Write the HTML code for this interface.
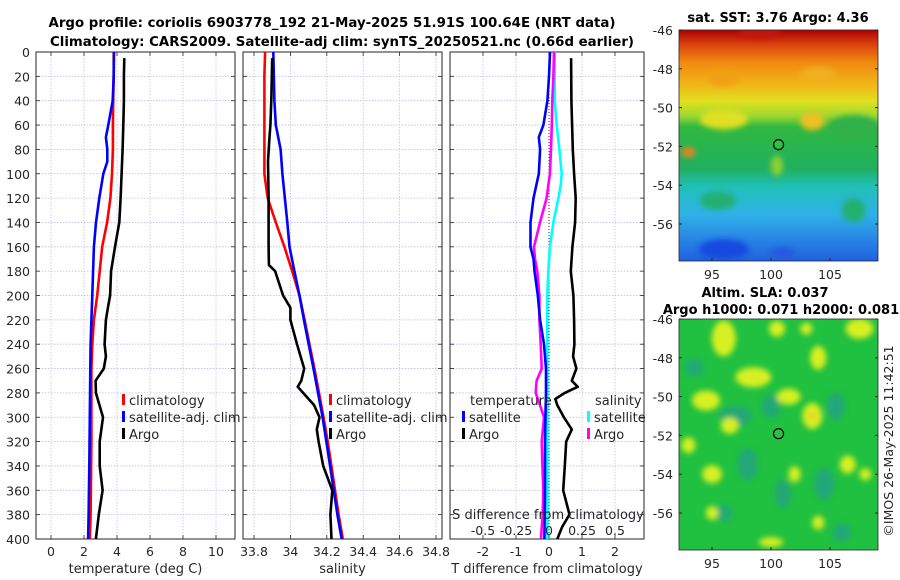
<!DOCTYPE html>
<html><head><meta charset="utf-8">
<style>
html,body{margin:0;padding:0;background:#fff;}
svg{display:block;font-family:"DejaVu Sans","Liberation Sans",sans-serif;}
</style></head>
<body>
<svg id="fig" width="900" height="580" viewBox="0 0 900 580" xmlns="http://www.w3.org/2000/svg">
<defs>
<linearGradient id="sstGrad" x1="0" y1="0" x2="0" y2="1">
<stop offset="0" stop-color="#b00000"/>
<stop offset="0.06" stop-color="#d84010"/>
<stop offset="0.14" stop-color="#f08a10"/>
<stop offset="0.24" stop-color="#f0b818"/>
<stop offset="0.31" stop-color="#e0e020"/>
<stop offset="0.37" stop-color="#a0d830"/>
<stop offset="0.42" stop-color="#30b840"/>
<stop offset="0.60" stop-color="#20b060"/>
<stop offset="0.68" stop-color="#20c0b8"/>
<stop offset="0.80" stop-color="#30b0e8"/>
<stop offset="1" stop-color="#2060e0"/>
</linearGradient>
<clipPath id="m1clip"><rect x="679" y="30" width="199" height="231"/></clipPath>
<clipPath id="m2clip"><rect x="679" y="319" width="199" height="231"/></clipPath>
<filter id="blur4"><feGaussianBlur stdDeviation="3"/></filter>
</defs>
<g id="root"></g>
</svg>
<script>
// ---------- DATA ----------
const depthTicks = [0,20,40,60,80,100,120,140,160,180,200,220,240,260,280,300,320,340,360,380,400];
const tempTicks = [0,2,4,6,8,10];
const salTicks = [33.8,34,34.2,34.4,34.6,34.8];
const salTickLabels = ["33.8","34","34.2","34.4","34.6","34.8"];
const tdiffTicks = [-2,-1,0,1,2];
const sdiffTicks = [-0.5,-0.25,0,0.25,0.5];
const sdiffTickLabels = ["-0.5","-0.25","0","0.25","0.5"];

const depthStd = [0,20,40,60,80,100,120,140,160,180,200,220,240,260,280,300,320,340,360,380,400];
const tempClim = [3.8,3.8,3.77,3.75,3.75,3.7,3.6,3.4,3.1,2.95,2.8,2.6,2.5,2.45,2.45,2.45,2.45,2.43,2.42,2.4,2.35];
const depthTempSat = [0,20,40,60,70,80,90,100,120,140,160,180,200,220,240,260,300,340,380,400];
const tempSat = [3.82,3.8,3.74,3.47,3.33,3.41,3.41,3.17,2.93,2.73,2.6,2.55,2.5,2.45,2.4,2.38,2.35,2.32,2.28,2.25];
const depthTempArgo = [5,20,40,60,80,100,120,140,160,180,200,210,220,240,250,260,270,280,300,320,340,360,380,400];
const tempArgo = [4.44,4.42,4.42,4.38,4.34,4.28,4.22,4.14,3.88,3.64,3.58,3.45,3.33,3.25,3.33,3.2,2.7,2.72,3.15,2.95,2.95,3.13,2.9,2.72];

const salClim = [33.861,33.857,33.857,33.857,33.857,33.857,33.875,33.92,33.967,34.01,34.05,34.078,34.105,34.132,34.157,34.182,34.205,34.225,34.245,34.265,34.288];
const depthSalSat = [0,40,60,80,100,140,160,180,200,220,260,300,340,380,400];
const salSat = [33.906,33.912,33.92,33.946,33.956,33.983,33.995,34.022,34.05,34.074,34.127,34.177,34.218,34.258,34.282];
const depthSalArgo = [5,40,60,70,90,120,160,175,180,200,210,220,240,260,270,275,290,300,310,320,340,360,380,400];
const salArgo = [33.9,33.895,33.89,33.885,33.877,33.88,33.88,33.882,33.916,33.96,34.0,34.0,34.036,34.076,34.06,34.04,34.13,34.16,34.145,34.155,34.18,34.23,34.22,34.226];

const depthTdSat = [0,20,40,60,70,80,100,120,140,160,170,180,200,220,240,260,280,300,320,360,400];
const tdiffSat = [0.03,0,-0.05,-0.17,-0.31,-0.27,-0.31,-0.47,-0.56,-0.56,-0.47,-0.44,-0.34,-0.27,-0.15,-0.09,-0.09,-0.11,-0.12,-0.12,-0.14];
const depthTdArgo = [5,40,80,100,120,140,160,180,200,220,240,250,260,270,275,280,285,290,300,310,320,340,360,380,390,400];
const tdiffArgo = [0.67,0.68,0.72,0.76,0.81,0.79,0.71,0.66,0.74,0.76,0.77,0.73,0.83,0.69,0.87,0.48,0.19,0.25,0.45,0.69,0.52,0.48,0.43,0.62,0.4,0.25];
const depthSdSat = [0,20,40,60,80,100,110,120,140,160,180,200,260,320,400];
const sdiffSat = [0.043,0.043,0.043,0.058,0.079,0.096,0.088,0.071,0.033,0.007,-0.005,-0.013,-0.013,-0.012,-0.012];
const depthSdArgo = [0,20,40,60,80,100,120,140,160,170,180,200,220,240,260,270,280,290,300,320,340,360,380,400];
const sdiffArgo = [0.038,0.033,0.025,0.021,0.015,0.007,-0.018,-0.068,-0.114,-0.106,-0.089,-0.073,-0.073,-0.063,-0.055,-0.094,-0.101,-0.068,-0.038,-0.055,-0.05,-0.043,-0.048,-0.061];

const latTicks = [-46,-48,-50,-52,-54,-56];
const lonTicks = [95,100,105];
const argoLon = 100.64, argoLat = -51.91;

// ---------- helpers ----------
const NS = "http://www.w3.org/2000/svg";
const root = document.getElementById('root');
function mk(tag, attrs, parent){
  const e = document.createElementNS(NS, tag);
  for (const k in attrs) e.setAttribute(k, attrs[k]);
  (parent||root).appendChild(e);
  return e;
}
function txt(s, x, y, size, anchor, parent, weight){
  const t = mk('text', {x:x, y:y, 'font-size':size, 'text-anchor':anchor||'middle', fill:'#262626'}, parent);
  if (weight) t.setAttribute('font-weight', weight);
  t.textContent = s;
  return t;
}
const PT = 52, PB = 539;
function yD(d){ return PT + (d/400)*(PB-PT); }
function linScale(d0,d1,r0,r1){ return v => r0 + (v-d0)/(d1-d0)*(r1-r0); }

const panels = [
  {name:'temperature-panel', x0:36, x1:235, xs:linScale(0,10,51,216), ticks:tempTicks, labels:tempTicks.map(String), xlabel:'temperature (deg C)'},
  {name:'salinity-panel', x0:243, x1:442, xs:linScale(33.8,34.8,254,436), ticks:salTicks, labels:salTickLabels, xlabel:'salinity'},
  {name:'difference-panel', x0:450, x1:644, xs:linScale(-2,2,483,615), ticks:tdiffTicks, labels:tdiffTicks.map(String), xlabel:'T difference from climatology'}
];

let t1 = txt('Argo profile: coriolis 6903778_192 21-May-2025 51.91S 100.64E (NRT data)', 332, 27, 13, 'middle', null, 'bold');
t1.setAttribute('textLength','567'); t1.setAttribute('lengthAdjust','spacingAndGlyphs');
t1.setAttribute('fill','#000');


let t2 = txt('Climatology: CARS2009. Satellite-adj clim: synTS_20250521.nc (0.66d earlier)', 342, 46, 13, 'middle', null, 'bold');
t2.setAttribute('textLength','584'); t2.setAttribute('lengthAdjust','spacingAndGlyphs');
t2.setAttribute('fill','#000');



panels.forEach((p, pi) => {
  const g = mk('g', {});
  
  
  depthTicks.forEach(d => {
    const l = mk('line', {x1:p.x0, x2:p.x1, y1:yD(d), y2:yD(d), stroke:'#b8bde8', 'stroke-width':0.8, 'stroke-dasharray':'1.5,1.5'}, g);
    
    
  });
  p.ticks.forEach((v,i) => {
    const x = p.xs(v);
    const l = mk('line', {x1:x, x2:x, y1:PT, y2:PB, stroke:'#c8c0e0', 'stroke-width':0.8, 'stroke-dasharray':'1.5,1.5'}, g);
    
    
    mk('line', {x1:x, x2:x, y1:PB, y2:PB-4, stroke:'#262626', 'stroke-width':0.8}, g);
    mk('line', {x1:x, x2:x, y1:PT, y2:PT+4, stroke:'#262626', 'stroke-width':0.8}, g);
    const tl = txt(p.labels[i], x, 556, 12.5, 'middle', g);
    
    
  });
  depthTicks.forEach(d => {
    mk('line', {x1:p.x0, x2:p.x0+4, y1:yD(d), y2:yD(d), stroke:'#262626', 'stroke-width':0.8}, g);
    mk('line', {x1:p.x1, x2:p.x1-4, y1:yD(d), y2:yD(d), stroke:'#262626', 'stroke-width':0.8}, g);
    if (pi===0){
      const yl = txt(String(d), 30, yD(d)+5, 12.5, 'end', g);
      
      
    }
  });
  const fr = mk('rect', {x:p.x0, y:PT, width:p.x1-p.x0, height:PB-PT, fill:'none', stroke:'#262626', 'stroke-width':1}, g);
  
  
  const xl = txt(p.xlabel, (p.x0+p.x1)/2, 573, 13, 'middle', g);
  
  
});

function series(depths, vals, xs, color, name){
  const pts = depths.map((d,i) => xs(vals[i]).toFixed(1)+','+yD(d).toFixed(1)).join(' ');
  const pl = mk('polyline', {points:pts, fill:'none', stroke:color, 'stroke-width':2.6, 'stroke-linejoin':'round'});
  
  
}
const P = panels;
series(depthStd, tempClim, P[0].xs, '#ff0000', 'temp-climatology-line');
series(depthTempSat, tempSat, P[0].xs, '#0000ff', 'temp-satellite-line');
series(depthTempArgo, tempArgo, P[0].xs, '#000000', 'temp-argo-line');
series(depthStd, salClim, P[1].xs, '#ff0000', 'sal-climatology-line');
series(depthSalSat, salSat, P[1].xs, '#0000ff', 'sal-satellite-line');
series(depthSalArgo, salArgo, P[1].xs, '#000000', 'sal-argo-line');

const z = mk('line', {x1:P[2].xs(0), x2:P[2].xs(0), y1:PT, y2:PB, stroke:'#333', 'stroke-width':1, 'stroke-dasharray':'1,2'});


const sxs = linScale(-0.5,0.5,483,615);
series(depthSdSat, sdiffSat, sxs, '#00ffff', 'sdiff-satellite-line');
series(depthSdArgo, sdiffArgo, sxs, '#ff00ff', 'sdiff-argo-line');
series(depthTdSat, tdiffSat, P[2].xs, '#0000ff', 'tdiff-satellite-line');
series(depthTdArgo, tdiffArgo, P[2].xs, '#000000', 'tdiff-argo-line');

const sdt = txt('S difference from climatology', 548, 519, 13, 'middle');


sdiffTicks.forEach((v,i) => {
  const l = txt(sdiffTickLabels[i], sxs(v), 535, 12.5, 'middle');
  
  
});

function legEntry(x, y, color, label){
  const g = mk('g', {});
  
  
  mk('rect', {x:x, y:y-11, width:3, height:11, fill:color}, g);
  txt(label, x+7, y, 13, 'start', g);
}
[122,329].forEach(lx => {
  legEntry(lx, 405, '#ff0000', 'climatology');
  legEntry(lx, 422, '#0000ff', 'satellite-adj. clim');
  legEntry(lx, 439, '#000000', 'Argo');
});
const lt = txt('temperature', 470, 405, 13, 'start');  
legEntry(462, 422, '#0000ff', 'satellite');
legEntry(462, 439, '#000000', 'Argo');
const ls = txt('salinity', 595, 405, 13, 'start');  
legEntry(587, 422, '#00ffff', 'satellite');
legEntry(587, 439, '#ff00ff', 'Argo');

// ---------- maps ----------
const MX0 = 679, MX1 = 878;
const lonS = linScale(95,105,712,830);
function drawMap(top, clip, kind, titleLines){
  const latS = linScale(-46,-56,top,top+194);
  const g = mk('g', {});
  
  
  const cg = mk('g', {'clip-path':'url(#'+clip+')'}, g);
  if (kind==='sst'){
    mk('rect', {x:MX0, y:top, width:199, height:231, fill:'url(#sstGrad)'}, cg);
    const bg = mk('g', {filter:'url(#blur4)'}, cg);
    mk('ellipse', {cx:lonS(96), cy:latS(-50.6), rx:24, ry:10, fill:'#e0e020'}, bg);
    mk('ellipse', {cx:lonS(103.5), cy:latS(-50.7), rx:12, ry:9, fill:'#f0c020'}, bg);
    mk('ellipse', {cx:lonS(93), cy:latS(-52.3), rx:7, ry:5, fill:'#f08020'}, bg);
    mk('ellipse', {cx:lonS(107), cy:latS(-51), rx:25, ry:12, fill:'#30b048'}, bg);
    mk('ellipse', {cx:lonS(99), cy:latS(-46.1), rx:22, ry:6, fill:'#c01808'}, bg);
    mk('ellipse', {cx:lonS(96), cy:latS(-48.5), rx:16, ry:8, fill:'#f0a018'}, bg);
    mk('ellipse', {cx:lonS(104), cy:latS(-48.3), rx:18, ry:7, fill:'#f0b020'}, bg);
    mk('ellipse', {cx:lonS(95.5), cy:latS(-54.8), rx:18, ry:9, fill:'#20b070'}, bg);
    mk('ellipse', {cx:lonS(107), cy:latS(-55.3), rx:12, ry:12, fill:'#20b070'}, bg);
    mk('ellipse', {cx:lonS(100.5), cy:latS(-53), rx:6, ry:10, fill:'#90d030'}, bg);
    mk('ellipse', {cx:lonS(96), cy:latS(-57.3), rx:25, ry:10, fill:'#1848e0'}, bg);
    mk('ellipse', {cx:lonS(101), cy:latS(-57.5), rx:12, ry:6, fill:'#2858e0'}, bg);
  } else {
    mk('rect', {x:MX0, y:top, width:199, height:231, fill:'#20c040'}, cg);
    const bg = mk('g', {filter:'url(#blur4)'}, cg);
    const teal = [[97,-51,16,10],[100,-50.5,9,12],[105.5,-50.5,9,14],[98,-53.5,10,16],[101,-55,8,14],[104.5,-54.5,10,16],[93.5,-48.5,9,9],[106,-57,9,9],[96,-56,8,8]];
    teal.forEach(e => mk('ellipse', {cx:lonS(e[0]), cy:latS(e[1]), rx:e[2], ry:e[3], fill:'#20a878'}, bg));
    const yel = [[96,-47,12,18],[94.5,-50.2,14,10],[98.5,-49,18,10],[101.5,-50,12,8],[103.5,-51,10,13],[100.5,-46.5,8,8],[107.5,-46.5,14,10],[104,-48,8,12],[96.5,-51.5,9,8],[93,-52.5,7,8],[95,-54,10,9],[106.5,-53.5,8,9],[108,-54,6,6],[102,-54,6,8],[95,-56,6,7],[104,-56.5,6,7],[100,-57.5,12,5],[103,-46.5,6,6]];
    yel.forEach(e => mk('ellipse', {cx:lonS(e[0]), cy:latS(e[1]), rx:e[2], ry:e[3], fill:'#d8f020'}, bg));
    mk('ellipse', {cx:lonS(103.5), cy:latS(-51), rx:4, ry:5, fill:'#f0d020'}, bg);
  }
  const dot = mk('circle', {cx:lonS(argoLon), cy:latS(argoLat), r:5, fill:'#30c040', stroke:'#000', 'stroke-width':1.2}, g);
  
  
  mk('rect', {x:MX0, y:top, width:199, height:231, fill:'none', stroke:'#262626', 'stroke-width':0.8}, g);
  latTicks.forEach(v => {
    const y = latS(v);
    mk('line', {x1:MX0, x2:MX0+3, y1:y, y2:y, stroke:'#262626'}, g);
    mk('line', {x1:MX1, x2:MX1-3, y1:y, y2:y, stroke:'#262626'}, g);
    const l = txt(String(v), 673, y+5, 12.5, 'end', g);
    
    
  });
  lonTicks.forEach(v => {
    const x = lonS(v);
    mk('line', {x1:x, x2:x, y1:top+231, y2:top+228, stroke:'#262626'}, g);
    const l = txt(String(v), x, top+249, 12.5, 'middle', g);
    
    
  });
  titleLines.forEach(tl => {
    const t = txt(tl[0], tl[1], tl[2], 13, 'middle', g, 'bold');
    t.setAttribute('fill', '#000');
    
    
  });
}
drawMap(30, 'm1clip', 'sst', [['sat. SST: 3.76 Argo: 4.36', 778, 22]]);
drawMap(319, 'm2clip', 'sla', [['Altim. SLA: 0.037', 765, 297], ['Argo h1000: 0.071 h2000: 0.081', 781, 314]]);

const cp = txt('©IMOS 26-May-2025 11:42:51', 0, 0, 12.5, 'middle');
cp.setAttribute('transform', 'translate(893,441) rotate(-90)');


</script>
</body></html>
